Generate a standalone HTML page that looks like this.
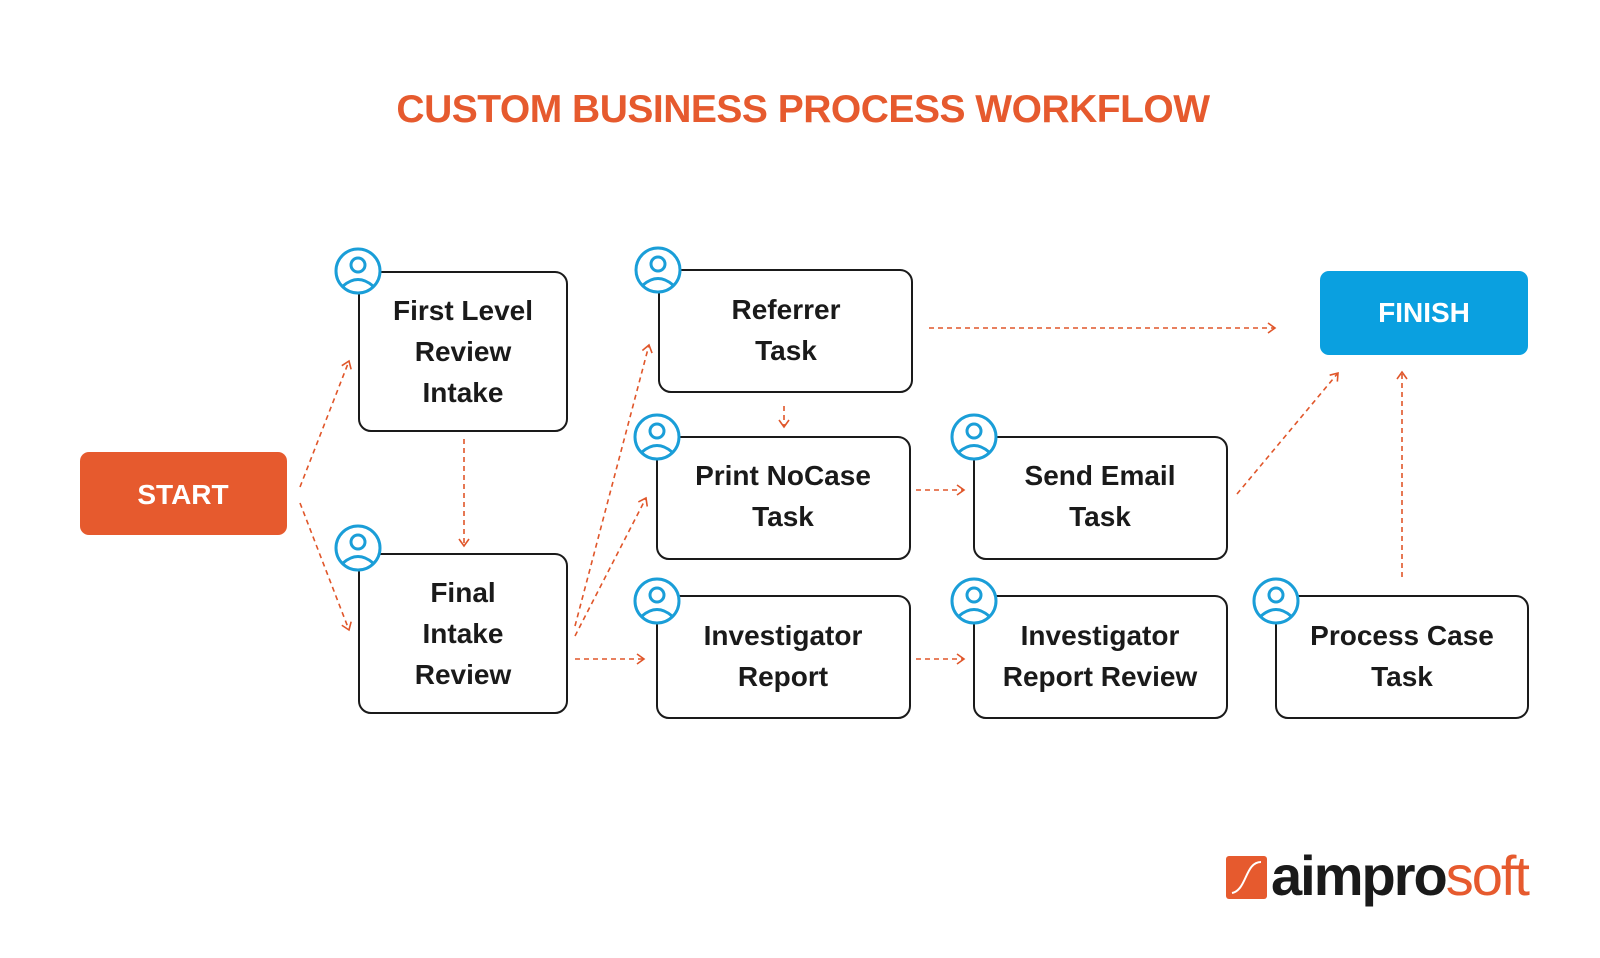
<!DOCTYPE html>
<html><head><meta charset="utf-8"><style>
body{margin:0;width:1600px;height:953px;background:#fff;overflow:hidden;font-family:"Liberation Sans",sans-serif}
</style></head><body>
<svg width="1600" height="953" viewBox="0 0 1600 953" xmlns="http://www.w3.org/2000/svg">
<defs>
<marker id="a" markerWidth="12" markerHeight="12" refX="9" refY="6" orient="auto" markerUnits="userSpaceOnUse">
<path d="M2,1 L9,6 L2,11" fill="none" stroke="#e0562a" stroke-width="1.6"/></marker>
<g id="ic"><circle cx="0" cy="0" r="22" fill="#fff" stroke="#1a9ed8" stroke-width="3"/>
<circle cx="0" cy="-6" r="7" fill="none" stroke="#1a9ed8" stroke-width="3"/>
<path d="M-15,15 Q0,2 15,15" fill="none" stroke="#1a9ed8" stroke-width="3"/></g>
</defs>
<text x="803" y="122" text-anchor="middle" font-size="39" font-weight="bold" fill="#e65a2e" letter-spacing="-0.5">CUSTOM BUSINESS PROCESS WORKFLOW</text>
<rect x="80" y="452" width="207" height="83" rx="9" fill="#e65a2e"/>
<text x="183" y="504" text-anchor="middle" font-size="28" font-weight="bold" fill="#fff">START</text>
<rect x="1320" y="271" width="208" height="84" rx="9" fill="#0aa0e0"/>
<text x="1424" y="322" text-anchor="middle" font-size="28" font-weight="bold" fill="#fff">FINISH</text>
<g fill="none" stroke="#1a1a1a" stroke-width="2">
<rect x="359" y="272" width="208" height="159" rx="12"/>
<rect x="359" y="554" width="208" height="159" rx="12"/>
<rect x="659" y="270" width="253" height="122" rx="12"/>
<rect x="657" y="437" width="253" height="122" rx="12"/>
<rect x="657" y="596" width="253" height="122" rx="12"/>
<rect x="974" y="437" width="253" height="122" rx="12"/>
<rect x="974" y="596" width="253" height="122" rx="12"/>
<rect x="1276" y="596" width="252" height="122" rx="12"/>
</g>
<use href="#ic" x="358" y="271"/><use href="#ic" x="358" y="548"/>
<use href="#ic" x="658" y="270"/><use href="#ic" x="657" y="437"/>
<use href="#ic" x="657" y="601"/><use href="#ic" x="974" y="437"/>
<use href="#ic" x="974" y="601"/><use href="#ic" x="1276" y="601"/>
<g font-size="28" font-weight="bold" fill="#1a1a1a" text-anchor="middle">
<text x="463" y="320">First Level</text><text x="463" y="361">Review</text><text x="463" y="402">Intake</text>
<text x="463" y="602">Final</text><text x="463" y="643">Intake</text><text x="463" y="684">Review</text>
<text x="786" y="319">Referrer</text><text x="786" y="360">Task</text>
<text x="783" y="485">Print NoCase</text><text x="783" y="526">Task</text>
<text x="783" y="645">Investigator</text><text x="783" y="686">Report</text>
<text x="1100" y="485">Send Email</text><text x="1100" y="526">Task</text>
<text x="1100" y="645">Investigator</text><text x="1100" y="686">Report Review</text>
<text x="1402" y="645">Process Case</text><text x="1402" y="686">Task</text>
</g>
<g stroke="#e0562a" stroke-width="1.6" stroke-dasharray="5,4" fill="none" marker-end="url(#a)">
<line x1="300" y1="487" x2="349" y2="361"/>
<line x1="300" y1="503" x2="349" y2="630"/>
<line x1="464" y1="439" x2="464" y2="546"/>
<line x1="575" y1="626" x2="649" y2="345"/>
<line x1="575" y1="636" x2="646" y2="498"/>
<line x1="575" y1="659" x2="644" y2="659"/>
<line x1="929" y1="328" x2="1275" y2="328"/>
<line x1="784" y1="406" x2="784" y2="427"/>
<line x1="916" y1="490" x2="964" y2="490"/>
<line x1="916" y1="659" x2="964" y2="659"/>
<line x1="1237" y1="494" x2="1338" y2="373"/>
<line x1="1402" y1="577" x2="1402" y2="372"/>
</g>
<rect x="1226" y="856" width="41" height="43" rx="3" fill="#e65a2e"/>
<path d="M1232,893 C1247,890 1245,862 1261,862" fill="none" stroke="#fff" stroke-width="2"/>
<text x="1271" y="895" font-size="56" font-weight="bold" fill="#1a1a1a" letter-spacing="-2">aimpro<tspan font-weight="normal" fill="#e65a2e">soft</tspan></text>
</svg>
</body></html>
